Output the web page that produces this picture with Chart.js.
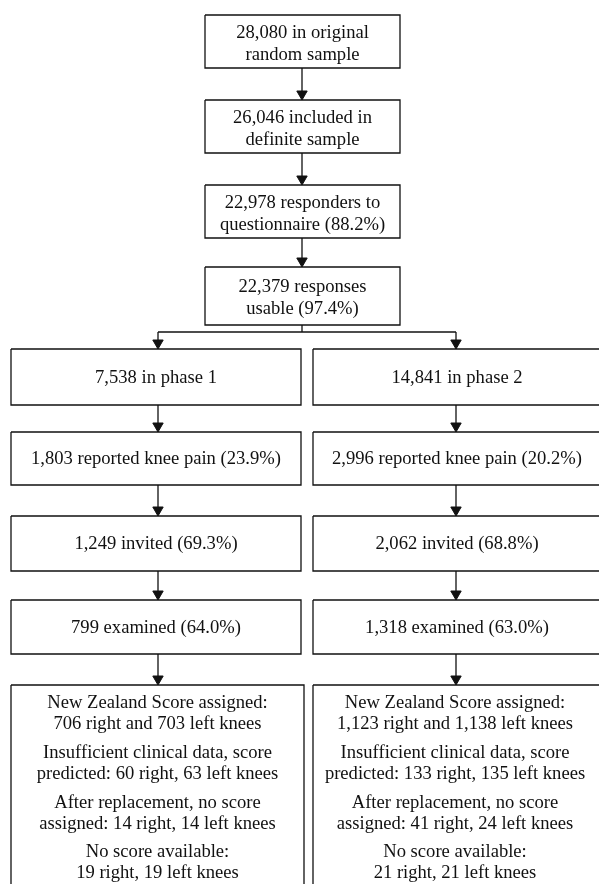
<!DOCTYPE html>
<html>
<head>
<meta charset="utf-8">
<script src="https://cdn.jsdelivr.net/npm/chart.js@4.4.0/dist/chart.umd.min.js"></script>
<style>
  html, body { margin: 0; padding: 0; background: #fff; }
  #wrap { width: 599px; height: 884px; }
</style>
</head>
<body>
<div id="wrap"><canvas id="chart" width="599" height="884"></canvas></div>
<script>
// box texts, top chain then the two phases
const topLabels = [
  ['28,080 in original', 'random sample'],
  ['26,046 included in', 'definite sample'],
  ['22,978 responders to', 'questionnaire (88.2%)'],
  ['22,379 responses', 'usable (97.4%)']
];
const phase1Labels = [
  ['7,538 in phase 1'],
  ['1,803 reported knee pain (23.9%)'],
  ['1,249 invited (69.3%)'],
  ['799 examined (64.0%)']
];
const phase2Labels = [
  ['14,841 in phase 2'],
  ['2,996 reported knee pain (20.2%)'],
  ['2,062 invited (68.8%)'],
  ['1,318 examined (63.0%)']
];
const phase1Scores = [
  ['New Zealand Score assigned:', '706 right and 703 left knees'],
  ['Insufficient clinical data, score', 'predicted: 60 right, 63 left knees'],
  ['After replacement, no score', 'assigned: 14 right, 14 left knees'],
  ['No score available:', '19 right, 19 left knees']
];
const phase2Scores = [
  ['New Zealand Score assigned:', '1,123 right and 1,138 left knees'],
  ['Insufficient clinical data, score', 'predicted: 133 right, 135 left knees'],
  ['After replacement, no score', 'assigned: 41 right, 24 left knees'],
  ['No score available:', '21 right, 21 left knees']
];

// layout (chart units = px of the figure)
const topX = [205, 400];
const topRows = [[15, 68], [100, 153], [185, 238], [267, 325]];
const colX = [[11, 301], [313, 601]];
const finalX = [[11, 304], [313, 601]];
const colRows = [[349, 405], [432, 485], [516, 571], [600, 654]];
const finalRow = [685, 900];
const branchY = 332;
const arrowX = [158, 456];

const ink = '#111';
const boxes = [];
const lines = [];
const heads = [];
const texts = [];

function addBox(l, r, t, b, label) {
  boxes.push({ l, r, t, b });
  if (label) texts.push({ x: (l + r) / 2, y: (t + b) / 2 + (label.length > 1 ? 2.5 : 1), lines: label, step: 22 });
}
function addArrow(x, y0, y1) {
  lines.push([{ x, y: y0 }, { x, y: y1 - 8 }]);
  heads.push({ x, y: y1 - 6 });
}

topRows.forEach((row, i) => {
  addBox(topX[0], topX[1], row[0], row[1], topLabels[i]);
  if (i > 0) addArrow(302, topRows[i - 1][1], row[0]);
});
lines.push([{ x: 302, y: topRows[3][1] }, { x: 302, y: branchY }]);
lines.push([{ x: arrowX[0], y: branchY }, { x: arrowX[1], y: branchY }]);

[phase1Labels, phase2Labels].forEach((labels, c) => {
  colRows.forEach((row, i) => {
    addBox(colX[c][0], colX[c][1], row[0], row[1], labels[i]);
    addArrow(arrowX[c], i === 0 ? branchY : colRows[i - 1][1], row[0]);
  });
  addArrow(arrowX[c], colRows[3][1], finalRow[0]);
  addBox(finalX[c][0], finalX[c][1], finalRow[0], finalRow[1], null);
});

const groupY = [714, 764, 814, 863];
[phase1Scores, phase2Scores].forEach((groups, c) => {
  const cx = (finalX[c][0] + finalX[c][1]) / 2 + (c === 1 ? -2 : 0);
  groups.forEach((g, i) => texts.push({ x: cx, y: groupY[i], lines: g, step: 21 }));
});

const datasets = boxes.map(b => ({
  type: 'line',
  data: [{ x: b.l, y: b.t }, { x: b.r, y: b.t }, { x: b.r, y: b.b }, { x: b.l, y: b.b }, { x: b.l, y: b.t }],
  borderColor: ink, borderWidth: 1.3, pointRadius: 0, fill: false, tension: 0, clip: false
}));
lines.forEach(seg => datasets.push({
  type: 'line', data: seg, borderColor: ink, borderWidth: 1.3, pointRadius: 0, fill: false, clip: false
}));
datasets.push({
  type: 'scatter', data: heads, pointStyle: 'triangle', rotation: 180,
  pointRadius: 6, backgroundColor: ink, borderColor: ink, borderWidth: 1, clip: false
});

const boxText = {
  id: 'boxText',
  afterDatasetsDraw(chart) {
    const { ctx, scales: { x, y } } = chart;
    ctx.save();
    ctx.fillStyle = ink;
    ctx.font = '18.6px "Liberation Serif", "Times New Roman", serif';
    ctx.textAlign = 'center';
    ctx.textBaseline = 'middle';
    texts.forEach(t => {
      const n = t.lines.length;
      t.lines.forEach((s, k) => {
        const yy = t.y + (k - (n - 1) / 2) * t.step;
        ctx.fillText(s, x.getPixelForValue(t.x), y.getPixelForValue(yy));
      });
    });
    ctx.restore();
  }
};

const ctx = document.getElementById('chart').getContext('2d');
new Chart(ctx, {
  type: 'scatter',
  data: { datasets },
  options: {
    responsive: false,
    animation: false,
    devicePixelRatio: 1,
    layout: { padding: 0, autoPadding: false },
    scales: {
      x: { type: 'linear', min: 0, max: 599, display: false },
      y: { type: 'linear', min: 0, max: 884, reverse: true, display: false }
    },
    plugins: { legend: { display: false }, tooltip: { enabled: false } },
    events: []
  },
  plugins: [boxText]
});
</script>
</body>
</html>
